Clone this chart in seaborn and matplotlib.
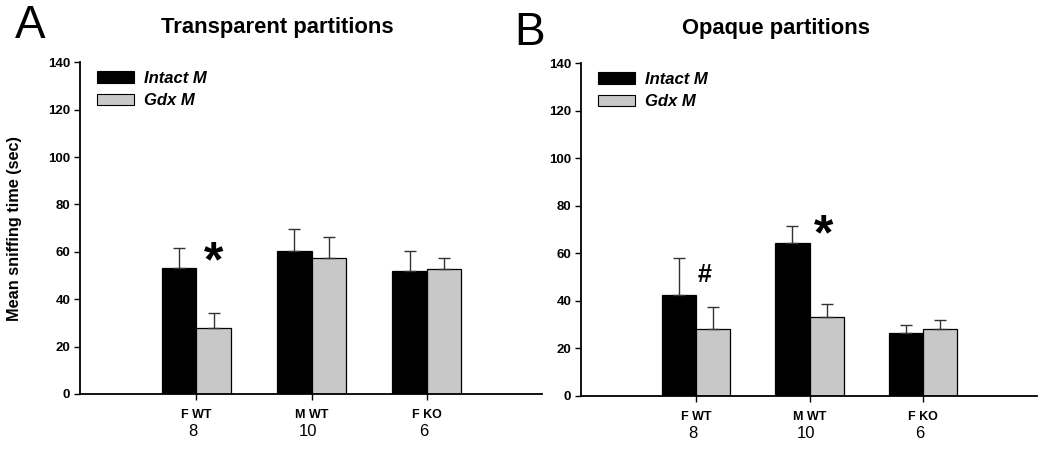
import numpy as np
import pandas as pd
import matplotlib
matplotlib.use("Agg")
import matplotlib.pyplot as plt
import seaborn as sns
from matplotlib.patches import Patch

sns.set_theme(style="ticks")
plt.rcParams['font.family'] = ['Liberation Sans', 'DejaVu Sans']
for k in ["text.color", "axes.labelcolor", "xtick.color", "ytick.color",
          "axes.edgecolor"]:
    plt.rcParams[k] = "black"

categories = ["F WT", "M WT", "F KO"]
group_n = ["8", "10", "6"]
groups = ["Intact M", "Gdx M"]

transparent_intact = [53.0, 60.5, 51.9]
transparent_intact_se = [8.5, 9.0, 8.6]
transparent_gdx = [28.0, 57.5, 52.6]
transparent_gdx_se = [6.3, 8.6, 4.9]

opaque_intact = [42.4, 64.3, 26.3]
opaque_intact_se = [15.5, 7.0, 3.5]
opaque_gdx = [28.0, 33.1, 28.0]
opaque_gdx_se = [9.4, 5.7, 3.8]

colors = {"Intact M": "#000000", "Gdx M": "#c8c8c8"}

fig = plt.figure(figsize=(10.5, 4.49), dpi=100)
axA = fig.add_axes([0.0762, 0.1225, 0.440, 0.7387])
axB = fig.add_axes([0.5533, 0.1187, 0.4343, 0.7402])


def panel(ax, intact, intact_se, gdx, gdx_se, title, ylabel, marks):
    df = pd.DataFrame({
        "cat": categories * 2,
        "group": [groups[0]] * 3 + [groups[1]] * 3,
        "val": intact + gdx,
        "se": intact_se + gdx_se,
    })
    sns.barplot(data=df, x="cat", y="val", hue="group", order=categories,
                hue_order=groups, palette=colors, width=0.6, errorbar=None,
                edgecolor="black", linewidth=0.9, saturation=1, ax=ax,
                legend=False)
    # error bars (upper only) positioned at bar centers
    for cont, g in zip(ax.containers, groups):
        sub = df[df.group == g].set_index("cat").loc[categories]
        xs = [p.get_x() + p.get_width() / 2 for p in cont.patches]
        ax.errorbar(xs, sub["val"].values,
                    yerr=[np.zeros(3), sub["se"].values],
                    fmt="none", ecolor="#333333", elinewidth=1.0,
                    capsize=4.5, capthick=1.0, zorder=1)
    ax.set_xlim(-1.01, 3.0)
    ax.set_ylim(0, 140)
    ax.set_yticks(np.arange(0, 141, 20))
    ax.set_xticks(range(3))
    ax.set_xticklabels(categories, fontweight="bold", fontsize=9)
    for lab in ax.get_yticklabels():
        lab.set_fontweight("bold")
        lab.set_fontsize(9.5)
    ax.set_xlabel("")
    ax.set_ylabel(ylabel, fontweight="bold", fontsize=11.7)
    ax.yaxis.set_label_coords(-0.125, 0.5)
    for i, n in enumerate(group_n):
        ax.text(i - 0.03, -0.09, n, transform=ax.get_xaxis_transform(),
                ha="center", va="top", fontsize=12)
    sns.despine(ax=ax)
    for s in ["left", "bottom"]:
        ax.spines[s].set_linewidth(1.3)
        ax.spines[s].set_color("black")
    ax.tick_params(axis="both", direction="out", length=4, width=1,
                   color="black", pad=3)
    ax.tick_params(axis="x", pad=7)
    handles = [Patch(facecolor=colors[g], edgecolor="black", linewidth=0.8)
               for g in groups]
    ax.legend(handles, groups, loc="upper left",
              bbox_to_anchor=(0.005, 1.02), frameon=False,
              handlelength=2.2, handleheight=0.7, handletextpad=0.6,
              labelspacing=0.45,
              prop={"weight": "bold", "style": "italic", "size": 12})
    ax.set_title(title, fontweight="bold", fontsize=15.8, pad=21, x=0.428)
    for txt, x, y, fs in marks:
        ax.text(x, y, txt, ha="center", va="center", fontsize=fs,
                fontweight="bold")
    return ax


panel(axA, transparent_intact, transparent_intact_se, transparent_gdx,
      transparent_gdx_se, "Transparent partitions",
      "Mean sniffing time (sec)", [("*", 0.15, 55, 36)])
panel(axB, opaque_intact, opaque_intact_se, opaque_gdx, opaque_gdx_se,
      "Opaque partitions", "", [("#", 0.08, 51, 18), ("*", 1.12, 67, 36)])

fig.text(0.014, 0.99, "A", fontsize=33, ha="left", va="top")
fig.text(0.490, 0.975, "B", fontsize=33, ha="left", va="top")

fig.savefig("out.png", dpi=100)
